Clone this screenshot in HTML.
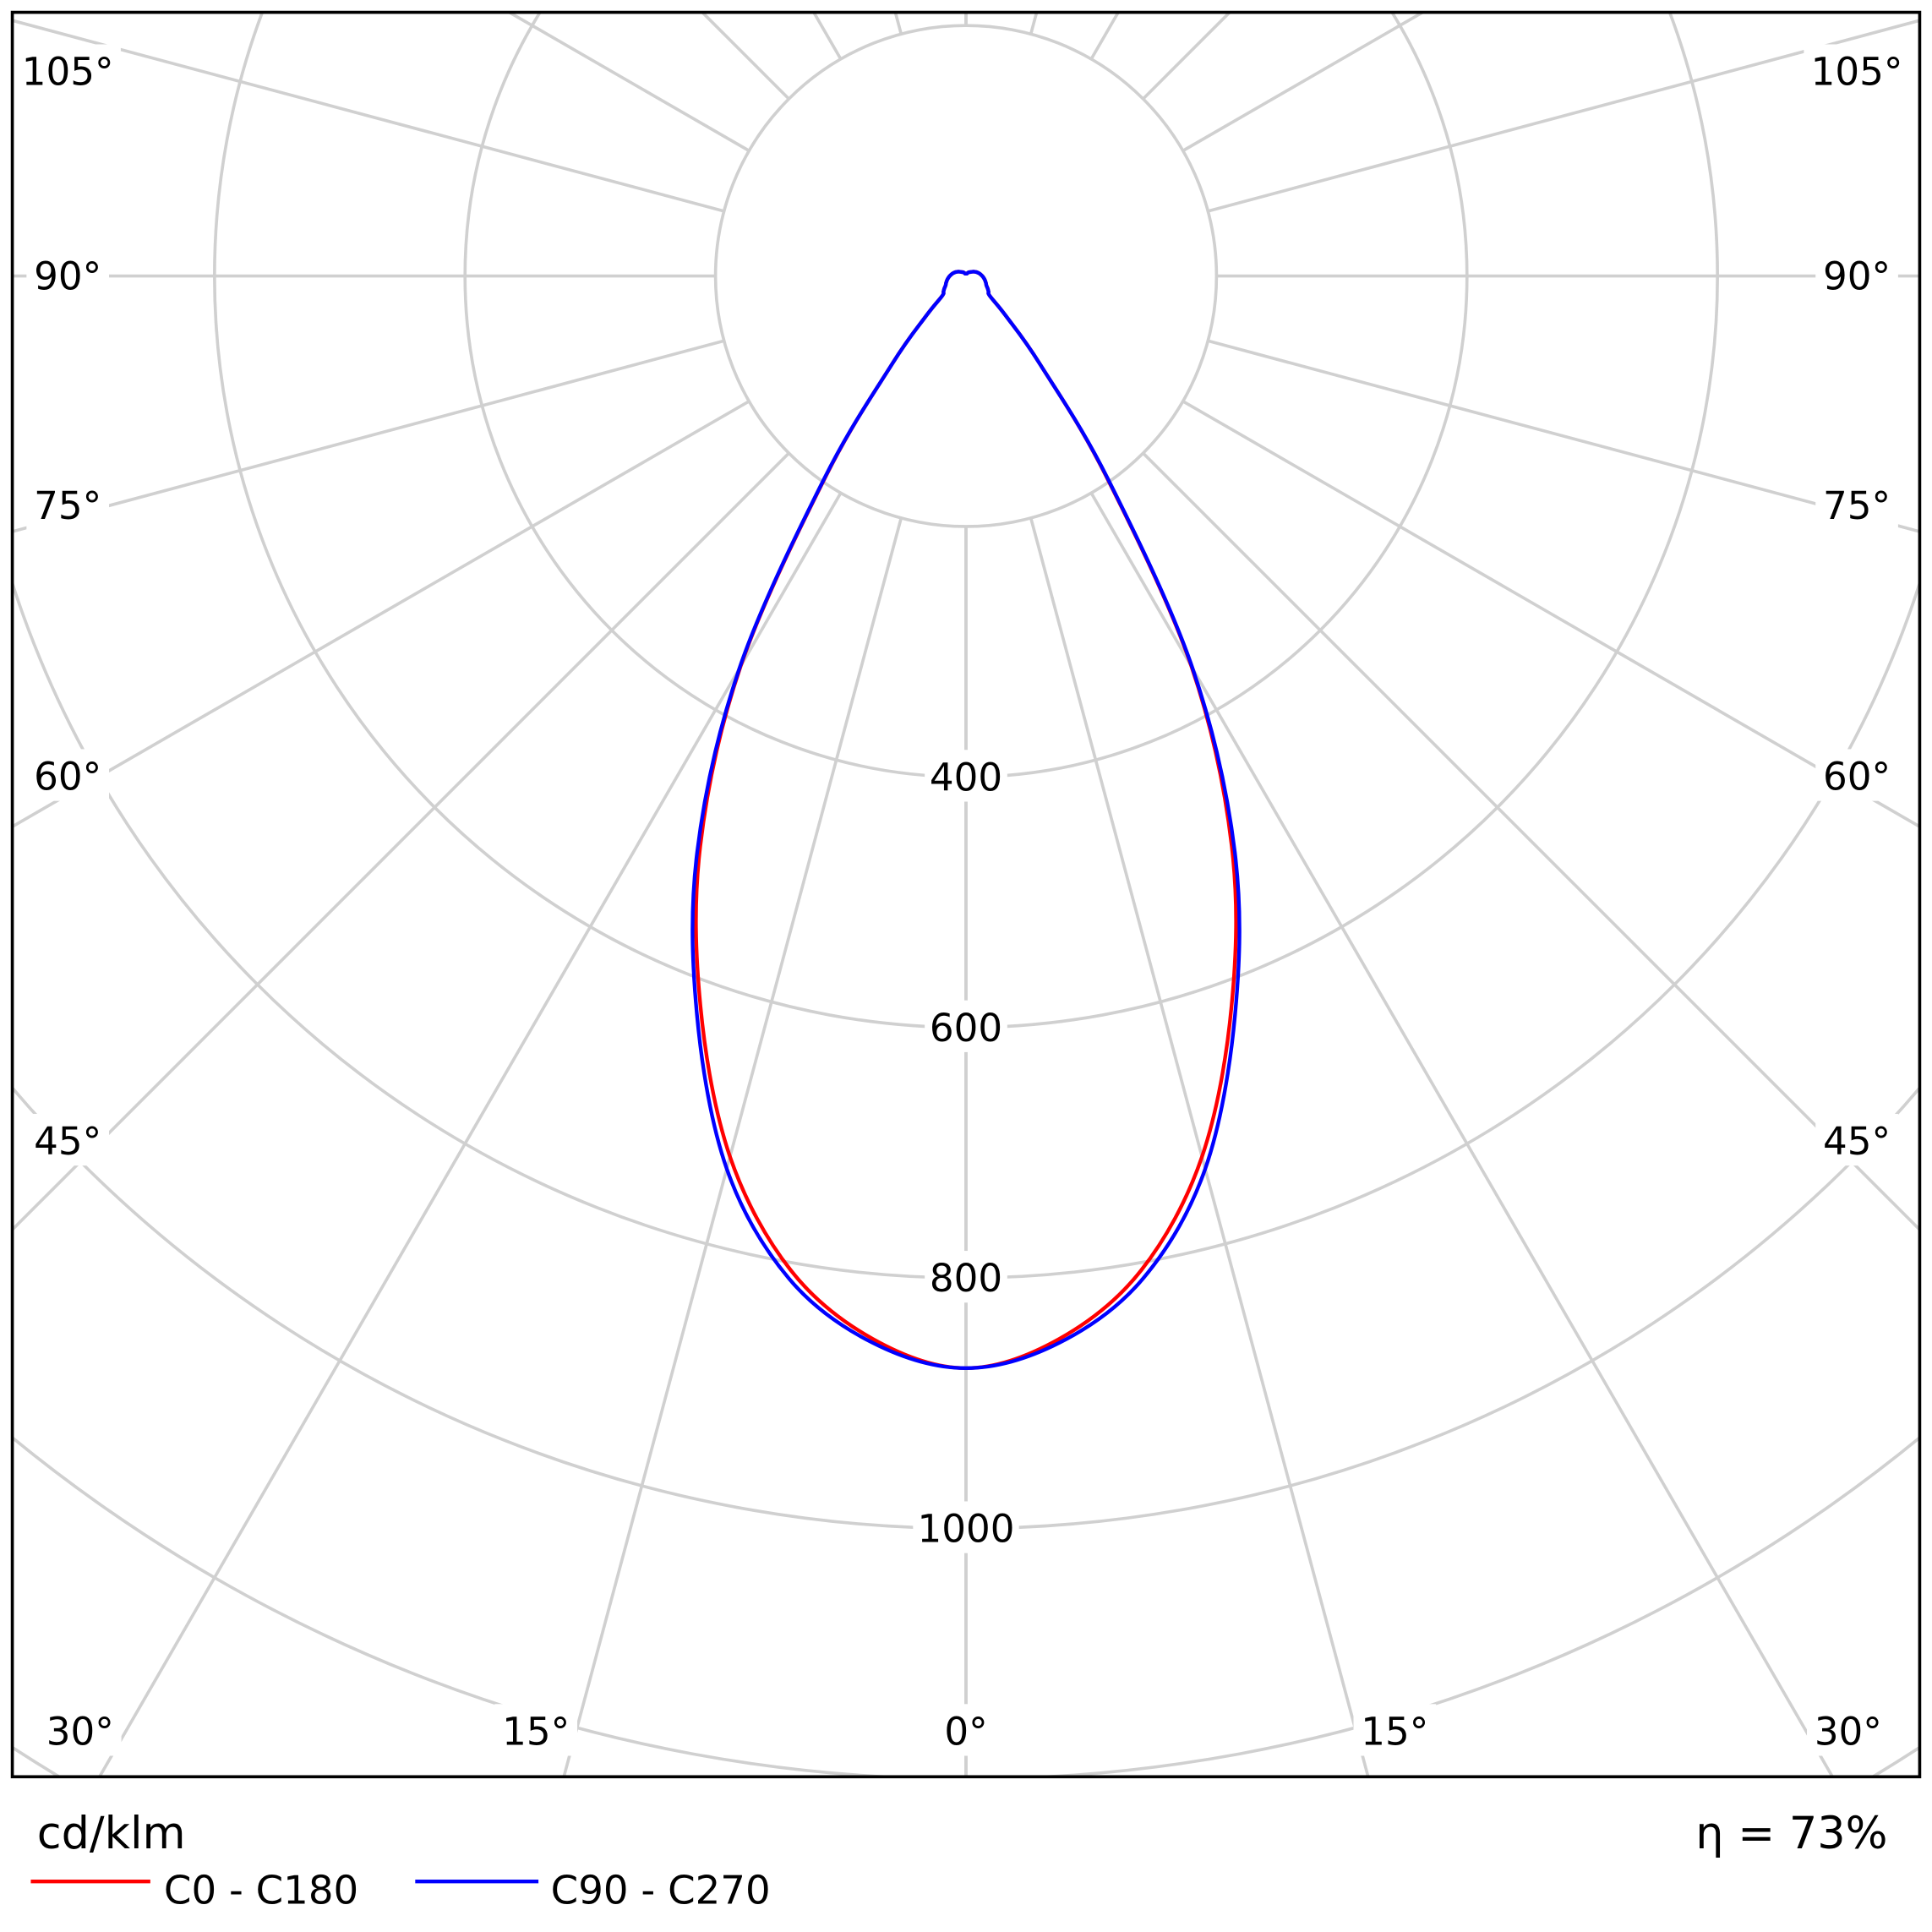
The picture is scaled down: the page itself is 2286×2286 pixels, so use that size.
<!DOCTYPE html>
<html><head><meta charset="utf-8"><style>
html,body{margin:0;padding:0;background:#fff;overflow:hidden;width:2286px;height:2286px}
svg{display:block}
text{font-family:"DejaVu Sans","Liberation Sans",sans-serif;fill:#000}
</style></head><body>
<svg id="chart" width="2286" height="2286" viewBox="0 0 1568 1568" xmlns="http://www.w3.org/2000/svg">
<defs><clipPath id="clip"><rect x="10" y="10" width="1548" height="1432"/></clipPath></defs>
<rect x="0" y="0" width="1568" height="1568" fill="#fff"/>
<g id="grid" clip-path="url(#clip)"></g>
<g id="curves" clip-path="url(#clip)"></g>
<g id="labels"></g>
<rect x="10" y="10" width="1548" height="1432" fill="none" stroke="#000" stroke-width="2.5"/>
<text x="30" y="1500" font-size="36">cd/klm</text>
<text x="1532" y="1500" font-size="36" text-anchor="end">η = 73%</text>
<g>
<line x1="25" y1="1527" x2="122" y2="1527" stroke="#f00" stroke-width="3"/>
<text x="133" y="1545" font-size="32">C0 - C180</text></g>
<g>
<line x1="337" y1="1527" x2="437" y2="1527" stroke="#00f" stroke-width="3"/>
<text x="447" y="1545" font-size="32">C90 - C270</text></g>
</svg>
<script>
const angles=[0,5,10,15,20,25,30,35,40,45,50,55,60,65,70,75,80,85,90,100,110,120,130,140,150,160,170,180];
const c0Values=[872,852,806,728,620,502,360,195,92,45,25,22,20,18,17,16,15,14,13,11,9,7,5,4,3,2,2,2];
const c90Values=[872,855,813,738,628,508,362,197,92,45,25,22,20,18,17,16,15,14,13,11,9,7,5,4,3,2,2,2];
const radialTicks=[200,400,600,800,1000,1200,1400];
const radialLabels=["400","600","800","1000"];
const angleTicks=[0,15,30,45,60,75,90,105,120,135,150,165,180];
const cx=784,cy=224,pxPer=203.3/200;
const NS="http://www.w3.org/2000/svg";
function rad(v){return v*pxPer;}
function pt(deg,v){const a=deg*Math.PI/180;return [cx+rad(v)*Math.sin(a),cy+rad(v)*Math.cos(a)];}
function mk(tag,attrs,parent){const e=document.createElementNS(NS,tag);for(const k in attrs)e.setAttribute(k,attrs[k]);parent.appendChild(e);return e;}
const grid=document.getElementById('grid');
radialTicks.forEach(v=>{
 const c=mk('circle',{cx:cx,cy:cy,r:rad(v),fill:'none',stroke:'#d0d0d0','stroke-width':2.5},grid);
 
 
});
angleTicks.forEach(d=>{[1,-1].forEach(s=>{
 const p1=pt(s*d,200),p2=pt(s*d,1600);
 const l=mk('line',{x1:p1[0],y1:p1[1],x2:p2[0],y2:p2[1],stroke:'#d0d0d0','stroke-width':2.5},grid);
 
 
});});
function path(vals){
 const pts=[];
 for(let i=angles.length-1;i>=0;i--)pts.push(pt(-angles[i],vals[i]));
 for(let i=1;i<angles.length;i++)pts.push(pt(angles[i],vals[i]));
 let d='M'+pts[0][0]+','+pts[0][1];
 for(let i=0;i<pts.length-1;i++){
  const p0=pts[Math.max(0,i-1)],p1=pts[i],p2=pts[i+1],p3=pts[Math.min(pts.length-1,i+2)];
  const c1=[p1[0]+(p2[0]-p0[0])/6,p1[1]+(p2[1]-p0[1])/6],c2=[p2[0]-(p3[0]-p1[0])/6,p2[1]-(p3[1]-p1[1])/6];
  d+=' C'+c1+' '+c2+' '+p2;
 }
 return d;
}
const cg=document.getElementById('curves');
const r=mk('path',{d:path(c0Values),fill:'none',stroke:'#f00','stroke-width':3,'stroke-linejoin':'round'},cg);


const b=mk('path',{d:path(c90Values),fill:'none',stroke:'#00f','stroke-width':3,'stroke-linejoin':'round'},cg);


const lg=document.getElementById('labels');
function label(x,y,t,name){
 const w=t.length*19+10;
 const bg=mk('rect',{x:x-w/2,y:y-22,width:w,height:42,fill:'#fff'},lg);
 
 
 const e=mk('text',{x:x,y:y+11,'font-size':31,'text-anchor':'middle'},lg);
 e.textContent=t;
 
 
}
radialLabels.forEach(t=>{label(cx,cy+rad(+t),t,'radial-label-'+t);});
const sideY={105:58,90:224,75:410,60:630,45:926};
for(const d in sideY){label(55,sideY[d],d+'°','angle-label-left-'+d);label(1507,sideY[d],d+'°','angle-label-right-'+d);}
label(65,1405,'30°','angle-label-left-30');
label(435,1405,'15°','angle-label-left-15');
label(784,1405,'0°','angle-label-0');
label(1132,1405,'15°','angle-label-right-15');
label(1500,1405,'30°','angle-label-right-30');
</script>
</body></html>
